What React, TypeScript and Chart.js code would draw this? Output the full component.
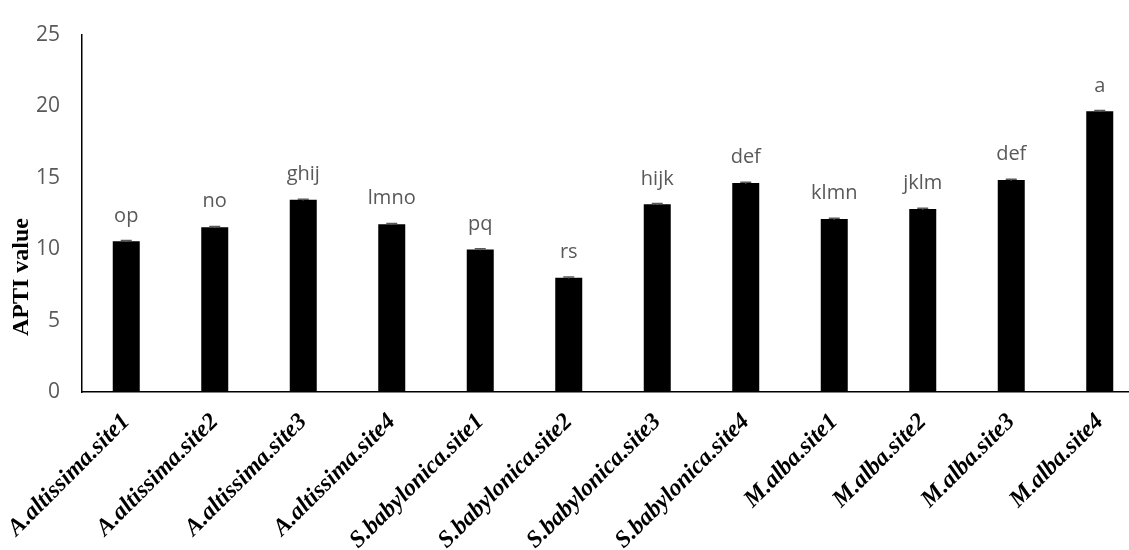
import React, { useEffect, useRef } from "react";
import { Chart, registerables } from "chart.js";

Chart.register(...registerables);

const categories = [
  "A.altissima.site1",
  "A.altissima.site2",
  "A.altissima.site3",
  "A.altissima.site4",
  "S.babylonica.site1",
  "S.babylonica.site2",
  "S.babylonica.site3",
  "S.babylonica.site4",
  "M.alba.site1",
  "M.alba.site2",
  "M.alba.site3",
  "M.alba.site4",
];
const aptiValues = [10.54, 11.53, 13.44, 11.74, 9.97, 7.99, 13.13, 14.62, 12.1, 12.8, 14.83, 19.64];
const errorValues = [0.05, 0.05, 0.05, 0.05, 0.05, 0.05, 0.05, 0.05, 0.05, 0.05, 0.05, 0.05];
const letterLabels = ["op", "no", "ghij", "lmno", "pq", "rs", "hijk", "def", "klmn", "jklm", "def", "a"];
const yMin = 0;
const yMax = 25;
const yStep = 5;
const yTitle = "APTI value";

const extrasPlugin = {
  id: "extras",
  afterDatasetsDraw(chart: any) {
    const ctx = chart.ctx;
    const meta = chart.getDatasetMeta(0);
    const yScale = chart.scales.y;
    ctx.save();
    meta.data.forEach((bar: any, i: number) => {
      const v = aptiValues[i];
      const e = errorValues[i];
      const yTop = yScale.getPixelForValue(v + e);
      const yBot = yScale.getPixelForValue(v - e);
      ctx.strokeStyle = "#595959";
      ctx.lineWidth = 1.5;
      ctx.beginPath();
      ctx.moveTo(bar.x, yTop);
      ctx.lineTo(bar.x, yBot);
      ctx.moveTo(bar.x - 5.5, yTop);
      ctx.lineTo(bar.x + 5.5, yTop);
      ctx.stroke();
      ctx.fillStyle = "#595959";
      ctx.font = '20px "Open Sans"';
      ctx.textAlign = "center";
      ctx.textBaseline = "alphabetic";
      ctx.fillText(letterLabels[i], bar.x, yTop - 19);
    });
    // y-axis title
    ctx.translate(22, 277);
    ctx.rotate(-Math.PI / 2);
    ctx.fillStyle = "#000000";
    ctx.font = 'bold 24px "Liberation Serif"';
    ctx.textAlign = "center";
    ctx.textBaseline = "middle";
    ctx.fillText(yTitle, 0, 0);
    ctx.restore();
  },
};

export default function App() {
  const ref = useRef<HTMLCanvasElement>(null);
  useEffect(() => {
    if (!ref.current) return;
    const chart = new Chart(ref.current, {
      type: "bar",
      data: {
        labels: categories,
        datasets: [
          {
            data: aptiValues,
            backgroundColor: "#000000",
            borderWidth: 0,
            barPercentage: 0.305,
            categoryPercentage: 1,
          },
        ],
      },
      options: {
        responsive: false,
        animation: false,
        layout: { padding: { top: 25, right: 16, left: 0, bottom: 0 } },
        plugins: {
          legend: { display: false },
          tooltip: { enabled: false },
          title: { display: false },
        },
        scales: {
          x: {
            grid: { display: false, drawTicks: false },
            border: { display: true, color: "#000000", width: 1.5 },
            ticks: {
              autoSkip: false,
              maxRotation: 45,
              minRotation: 45,
              padding: 16,
              color: "#000000",
              font: { family: '"Liberation Serif"', size: 24, weight: "bold", style: "italic" },
            },
            afterFit(scale: any) {
              scale.height = 158;
              scale.paddingLeft = 0;
              scale.paddingRight = 0;
            },
          },
          y: {
            min: yMin,
            max: yMax,
            grid: { display: false, drawTicks: false },
            border: { display: true, color: "#000000", width: 1.5 },
            ticks: {
              stepSize: yStep,
              padding: 22,
              color: "#595959",
              font: { family: '"Open Sans"', size: 21 },
            },
            afterFit(scale: any) {
              scale.width = 82;
            },
          },
        },
      },
      plugins: [extrasPlugin],
    });
    return () => chart.destroy();
  }, []);
  return (
    <div
      style={{
        position: "fixed",
        left: 0,
        top: 0,
        width: 1129,
        height: 550,
        overflow: "hidden",
        background: "#ffffff",
      }}
    >
      <canvas ref={ref} width={1160} height={550} style={{ display: "block" }} />
    </div>
  );
}
